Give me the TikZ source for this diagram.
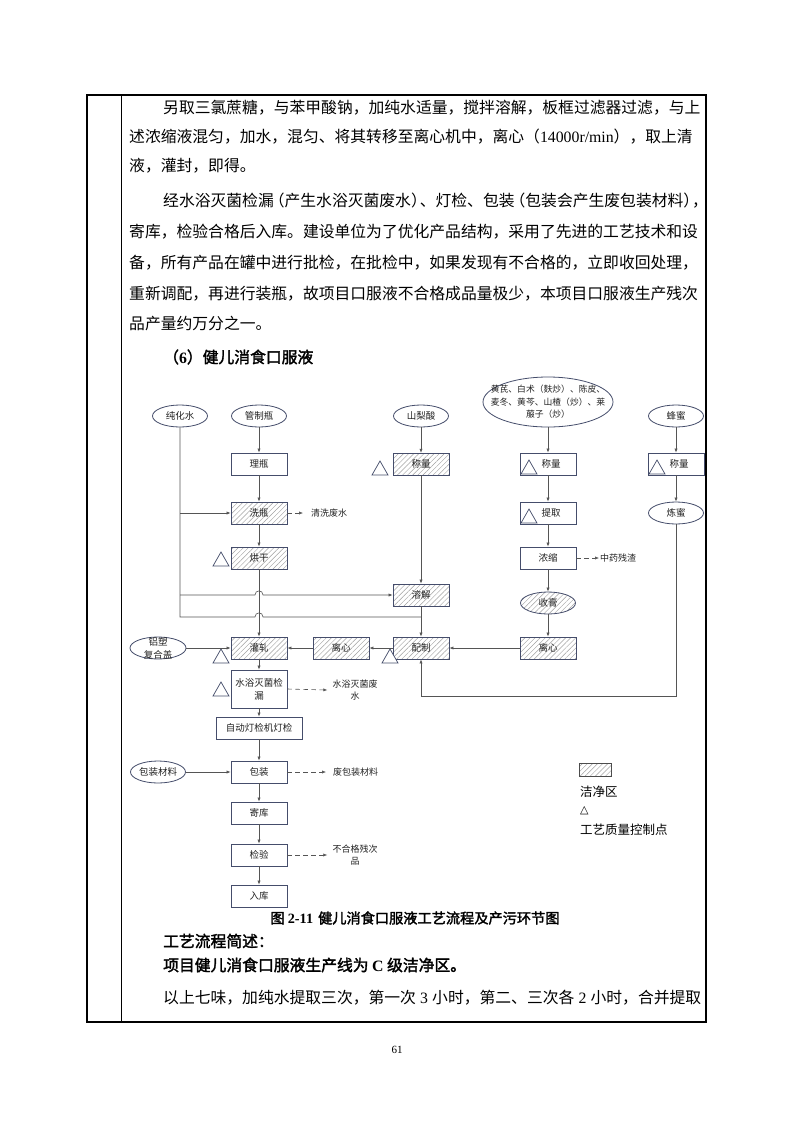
\documentclass[tikz,border=0pt]{standalone}
\usepackage{fontspec}
\setmainfont{Liberation Serif}
\newfontfamily\cjk[AutoFakeBold=2]{Noto Sans CJK SC}
\newfontfamily\symf{DejaVu Sans}
\usetikzlibrary{shapes.geometric,patterns.meta,arrows.meta}
\XeTeXlinebreaklocale "zh"
\XeTeXlinebreakskip=0pt plus 3pt minus 1.2pt
\definecolor{bordc}{HTML}{454D6B}
\definecolor{linec}{HTML}{555555}
\definecolor{hatchc}{HTML}{A0A0A0}
\definecolor{txtc}{HTML}{222222}
\newcommand\bodyfont{\cjk\fontsize{15.8}{18}\selectfont}
\newcommand\qtri[2]{\draw[qtri] (#1,#2) -- ++(16,0) -- ++(-8,-14) -- cycle;}
\begin{document}
\begin{tikzpicture}[x=1pt,y=-1pt,
  txt/.style={inner sep=0pt, anchor=west, font=\bodyfont, text=black},
  box/.style={draw=bordc, line width=0.8pt, minimum width=56pt, minimum height=22pt, inner sep=0pt, font=\cjk\fontsize{9.5}{11}\selectfont, text=txtc, fill=white},
  hbox/.style={box, pattern={Lines[angle=45,distance=3.6pt,line width=0.45pt]}, pattern color=hatchc},
  ell/.style={ellipse, draw=bordc, line width=0.8pt, minimum width=55pt, minimum height=22pt, inner sep=0pt, font=\cjk\fontsize{9.5}{11}\selectfont, text=txtc, fill=white},
  hell/.style={ell, pattern={Lines[angle=45,distance=3.6pt,line width=0.45pt]}, pattern color=hatchc},
  small/.style={inner sep=0pt, font=\cjk\fontsize{9}{12}\selectfont, text=txtc, align=center},
  ln/.style={draw=linec, line width=0.6pt},
  arr/.style={ln, -{Latex[length=4pt,width=3.2pt]}},
  darr/.style={arr, dash pattern=on 4.5pt off 3.5pt},
  qtri/.style={draw=bordc, line width=0.7pt, fill=white},
  itri/.style={draw=bordc, line width=0.7pt}
]
\useasboundingbox (0,0) rectangle (793,1122);
\fill[white] (0,0) rectangle (793,1122);

% frame
\draw[line width=1.3pt] (87,95) rectangle (706,1022);
\draw[line width=0.9pt] (121,95) -- (121,1022);

% top paragraphs
\node[txt] (p1) at (163,108) {\makebox[538pt][s]{另取三氯蔗糖，与苯甲酸钠，加纯水适量，搅拌溶解，板框过滤器过滤，与上}};
\node[txt] (p2) at (129,137) {\makebox[572pt][s]{述浓缩液混匀，加水，混匀、将其转移至离心机中，离心（{\rmfamily\fontsize{15.8}{18}\selectfont 14000r/min}），取上清}};
\node[txt] (p3) at (129,166) {液，灌封，即得。};
\node[txt] (p4) at (163,201) {\makebox[538pt][s]{经水浴灭菌检漏\kern-5pt（产生水浴灭菌废水）\kern-7pt、灯检、包装\kern-5pt（包装会产生废包装材料）\kern-7pt，}};
\node[txt] (p5) at (129,232) {\makebox[572pt][s]{寄库，检验合格后入库。建设单位为了优化产品结构，采用了先进的工艺技术和设}};
\node[txt] (p6) at (129,263) {\makebox[572pt][s]{备，所有产品在罐中进行批检，在批检中，如果发现有不合格的，立即收回处理，}};
\node[txt] (p7) at (129,294) {\makebox[572pt][s]{重新调配，再进行装瓶，故项目口服液不合格成品量极少，本项目口服液生产残次}};
\node[txt] (p8) at (129,324) {品产量约万分之一。};
\node[txt] (head) at (163,357) {\bfseries （{\rmfamily\bfseries 6}）健儿消食口服液};

% top sources
\node[ell] (pw) at (180,416) {纯化水};
\node[ell] (gzp) at (259,416) {管制瓶};
\node[ell] (ssa) at (421,416) {山梨酸};
\node[ell, minimum width=130pt, minimum height=50pt] (herbs) at (548,402) {};
\node[small, font=\cjk\fontsize{8.8}{12.5}\selectfont] (herbst) at (herbs.center) {黄芪、白术（麸炒）、陈皮、\\麦冬、黄芩、山楂（炒）、莱\\菔子（炒）};
\node[ell] (fm) at (676,416) {蜂蜜};

% row 称量
\node[box] (lp) at (259,464) {理瓶};
\node[hbox] (cl1) at (421,464) {称量};
\node[box] (cl2) at (548,464) {\hspace{6pt}称量};
\node[box] (cl3) at (676,464) {\hspace{6pt}称量};

\node[hbox] (xp) at (259,513) {洗瓶};
\node[box] (tq) at (548,513) {\hspace{6pt}提取};
\node[ell] (lm) at (676,513) {炼蜜};

\node[hbox] (hg) at (259,558) {烘干};
\node[box] (ns) at (548,558) {浓缩};
\node[hell] (sg) at (548,603) {收膏};
\node[hbox] (rj) at (421,595) {溶解};

\node[hbox] (pz) at (421,648) {配制};
\node[hbox] (lx1) at (341,648) {离心};
\node[hbox] (gz) at (259,648) {灌轧};
\node[hbox] (lx2) at (548,648) {离心};
\node[ell, minimum width=56pt] (lsg) at (158,648) {};
\node[small, font=\cjk\fontsize{9.5}{13}\selectfont] (lsgt) at (lsg.center) {铝塑\\复合盖};

\node[box, minimum height=38pt, align=center, font=\cjk\fontsize{9.5}{13}\selectfont] (sy) at (259,689) {水浴灭菌检\\漏};
\node[box, minimum width=86pt] (dj) at (259,728) {自动灯检机灯检};
\node[box] (bz) at (259,772) {包装};
\node[ell] (bzcl) at (158,772) {包装材料};
\node[box] (jk) at (259,813) {寄库};
\node[box] (jy) at (259,855) {检验};
\node[box] (rk) at (259,896) {入库};

% waste outputs
\node[small, anchor=west] (w1) at (311,513) {清洗废水};
\node[small] (w2) at (355,690) {水浴灭菌废\\水};
\node[small, anchor=west] (w3) at (333,772) {废包装材料};
\node[small] (w4) at (355,855) {不合格残次\\品};
\node[small, anchor=west] (w5) at (600,558) {中药残渣};

% quality control triangles
\qtri{372}{475}
\qtri{213}{566}
\qtri{213}{663}
\qtri{382}{663}
\qtri{213}{696}
\draw[itri] (521,474) -- ++(16,0) -- ++(-8,-14) -- cycle;
\draw[itri] (521,523) -- ++(16,0) -- ++(-8,-14) -- cycle;
\draw[itri] (649,474) -- ++(16,0) -- ++(-8,-14) -- cycle;

% main connectors
\draw[arr] (gzp) -- (lp);
\draw[arr] (lp) -- (xp);
\draw[arr] (xp) -- (hg);
\draw[arr] (hg) -- (gz);
\draw[arr] (gz) -- (sy);
\draw[arr] (sy) -- (dj);
\draw[arr] (dj) -- (bz);
\draw[arr] (bz) -- (jk);
\draw[arr] (jk) -- (jy);
\draw[arr] (jy) -- (rk);
\draw[arr] (ssa) -- (cl1);
\draw[arr] (cl1) -- (rj);
\draw[arr] (rj) -- (pz);
\draw[arr] (herbs) -- (cl2);
\draw[arr] (cl2) -- (tq);
\draw[arr] (tq) -- (ns);
\draw[arr] (ns) -- (sg);
\draw[arr] (sg) -- (lx2);
\draw[arr] (lx2) -- (pz);
\draw[arr] (fm) -- (cl3);
\draw[arr] (cl3) -- (lm);
\coordinate (low) at (0,696);
\draw[arr] (lm.south) -- (lm.south |- low) -| (pz.south);
\draw[arr] (pz) -- (lx1);
\draw[arr] (lx1) -- (gz);
\draw[arr] (lsg) -- (gz);
\draw[arr] (bzcl) -- (bz);

% purified water lines with hops
\coordinate (h1) at (0,595);
\coordinate (h2) at (0,617);
\draw[ln] (pw.south) -- (pw.south |- h2) -- (255,617) .. controls (255,611.5) and (263,611.5) .. (263,617) -- (rj.south |- h2);
\draw[arr] (pw.south |- xp) -- (xp.west);
\draw[arr] (pw.south |- h1) -- (255,595) .. controls (255,589.5) and (263,589.5) .. (263,595) -- (rj.west);

% dashed waste arrows
\draw[darr] (xp.east) -- ([xshift=-8pt]w1.west);
\draw[darr] (sy.east) -- ([xshift=-5pt]w2.west);
\draw[darr] (bz.east) -- ([xshift=-7pt]w3.west);
\draw[darr] (jy.east) -- ([xshift=-5pt]w4.west);
\draw[darr] (ns.east) -- ([xshift=-1pt]w5.west);

% legend
\draw[draw=gray!60!black, line width=0.5pt, pattern={Lines[angle=45,distance=3.6pt,line width=0.45pt]}, pattern color=hatchc] (579,763) rectangle (611,776);
\node[inner sep=0pt, anchor=west, font=\cjk\fontsize{12.5}{14}\selectfont] (lg1) at (580,792) {洁净区};
\node[inner sep=0pt, anchor=west, font=\symf\fontsize{11}{13}\selectfont] (lg2) at (580,811) {△};
\node[inner sep=0pt, anchor=west, font=\cjk\fontsize{12.5}{14}\selectfont] (lg3) at (580,830) {工艺质量控制点};

% caption and bottom text
\node[inner sep=0pt, font=\cjk\fontsize{14.2}{17}\selectfont\bfseries] (cap) at (415,918) {图 {\rmfamily\bfseries 2-11}\hspace{5pt}健儿消食口服液工艺流程及产污环节图};
\node[txt] (b1) at (163,941) {\bfseries 工艺流程简述：};
\node[txt] (b2) at (163,965) {\bfseries 项目健儿消食口服液生产线为 {\rmfamily\bfseries C} 级洁净区。};
\node[txt] (b3) at (163,998) {\makebox[538pt][s]{以上七味，加纯水提取三次，第一次 {\rmfamily 3} 小时，第二、三次各 {\rmfamily 2} 小时，合并提取}};
\node[inner sep=0pt, font=\rmfamily\fontsize{11}{13}\selectfont] (pg) at (397,1050) {61};
\end{tikzpicture}
\end{document}
